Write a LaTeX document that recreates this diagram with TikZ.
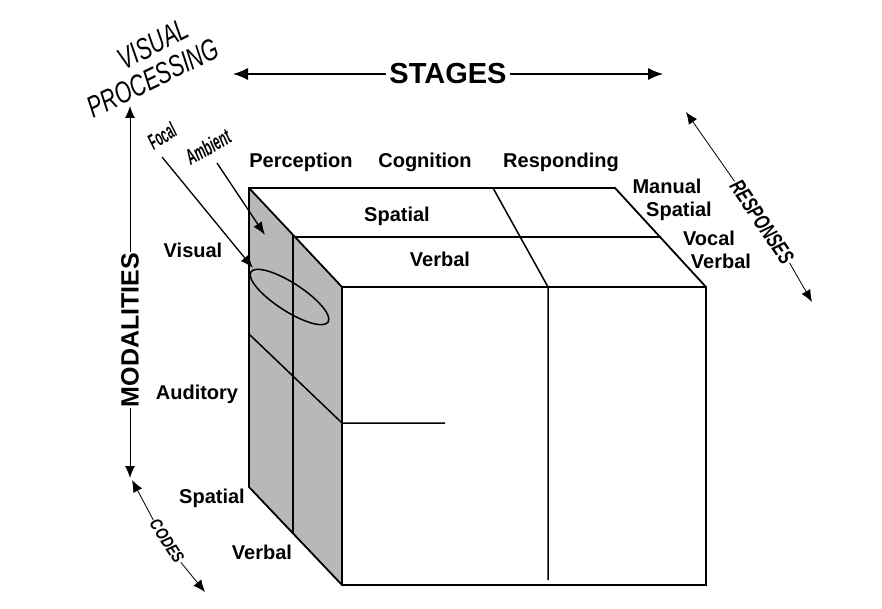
\documentclass[tikz,border=0pt]{standalone}
\usepackage{fontspec}
\setmainfont{Liberation Sans}
\usetikzlibrary{arrows.meta}
\begin{document}
\begin{tikzpicture}[x=1pt,y=-1pt,
  lab/.style={font=\fontsize{20}{22}\selectfont\bfseries, inner sep=0pt, anchor=base},
  edgeline/.style={line width=1.8pt, line join=miter},
  innerline/.style={line width=1.5pt},
  bigarr/.style={line width=1.2pt, -{Latex[length=15pt,width=12pt]}},
  medarr/.style={line width=1pt, -{Latex[length=12pt,width=10pt]}},
  thinarr/.style={line width=0.8pt, -{Latex[length=12pt,width=10pt]}},
  ptrarr/.style={line width=1.3pt, -{Latex[length=13pt,width=10pt]}},
  slant/.style={font=\fontsize{22}{24}\selectfont\bfseries\itshape, inner sep=0pt},
  facefill/.style={fill=black!28}
]
\useasboundingbox (0,0) rectangle (882,609);

% cube corners
\coordinate (A) at (249,188);
\coordinate (B) at (615,188);
\coordinate (C) at (342,287);
\coordinate (D) at (706,287);
\coordinate (E) at (342,585);
\coordinate (F) at (706,585);
\coordinate (G) at (249,487);

\fill[facefill] (A) -- (C) -- (E) -- (G) -- cycle;

% inner lines
\draw[innerline] (295,237) -- (660,237);
\draw[innerline] (493,188) -- (548,287) -- (548,580);
\draw[innerline] (293,235) -- (293,533);
\draw[innerline] (250,335) -- (342,423) -- (445,423);
\draw[innerline, rotate around={-33:(289.5,297)}] (289.5,297) ellipse [x radius=46pt, y radius=14pt];

% cube edges
\draw[edgeline] (A) -- (B) -- (D) -- (F) -- (E) -- (G) -- cycle;
\draw[edgeline] (A) -- (C) -- (D);
\draw[edgeline] (C) -- (E);

% stage labels
\node[lab] (perc) at (301,168) {Perception};
\node[lab] (cogn) at (425,168) {Cognition};
\node[lab] (resp) at (561,168) {Responding};
% code labels on top
\node[lab] (tspat) at (397,222) {Spatial};
\node[lab] (tverb) at (440,267) {Verbal};
% response labels
\node[lab] (manual) at (667,194) {Manual};
\node[lab] (rspat) at (679,217) {Spatial};
\node[lab] (vocal) at (709,246) {Vocal};
\node[lab] (rverb) at (721,269) {Verbal};
% modality labels
\node[lab] (visual) at (193,258) {Visual};
\node[lab] (audit) at (197,399) {Auditory};
\node[lab] (lspat) at (212,503) {Spatial};
\node[lab] (lverb) at (262,559) {Verbal};

% STAGES
\node[font=\fontsize{29}{32}\selectfont\bfseries, inner sep=3pt] (stages) at (448,74) {STAGES};
\coordinate (stL) at (233,74);
\coordinate (stR) at (663,74);
\draw[bigarr] (stages.west) -- (stL);
\draw[bigarr] (stages.east) -- (stR);

% MODALITIES
\node[font=\fontsize{25}{28}\selectfont\bfseries, inner sep=1pt, rotate=90] (modal) at (130,330) {MODALITIES};
\coordinate (mtop) at (130,106);
\coordinate (mbot) at (130,478);
\draw[medarr] (modal.east) -- (mtop);
\draw[medarr] (modal.west) -- (mbot);

% RESPONSES
\node[slant, inner sep=1pt, rotate=-56] (responses) at (762,222) {\scalebox{0.7}[1]{RESPONSES}};
\coordinate (rtop) at (686,112);
\coordinate (rbot) at (812,302);
\draw[thinarr] (responses.west) -- (rtop);
\draw[thinarr] (responses.east) -- (rbot);

% CODES
\node[font=\fontsize{17}{19}\selectfont\bfseries\itshape, inner sep=1pt, rotate=-57] (codes) at (167,541) {\scalebox{0.8}[1]{CODES}};
\coordinate (ctop) at (132,480);
\coordinate (cbot) at (205,592);
\draw[thinarr] (codes.west) -- (ctop);
\draw[thinarr] (codes.east) -- (cbot);

% VISUAL PROCESSING
\node[font=\fontsize{30}{32}\selectfont\itshape, inner sep=0pt, rotate=27] (vis) at (153,44) {\scalebox{0.7}[1]{VISUAL}};
\node[font=\fontsize{30}{32}\selectfont\itshape, inner sep=0pt, rotate=26] (proc) at (153,78) {\scalebox{0.71}[1]{PROCESSING}};

% Focal / Ambient
\node[slant, rotate=32] (focal) at (162,136) {\scalebox{0.5}[1]{Focal}};
\node[slant, rotate=30] (ambient) at (208,147) {\scalebox{0.55}[1]{Ambient}};
\coordinate (fs) at (162,157);
\coordinate (fe) at (253,268);
\coordinate (as) at (217,163);
\coordinate (ae) at (265,235);
\draw[ptrarr] (fs) -- (fe);
\draw[ptrarr] (as) -- (ae);
\end{tikzpicture}
\end{document}
